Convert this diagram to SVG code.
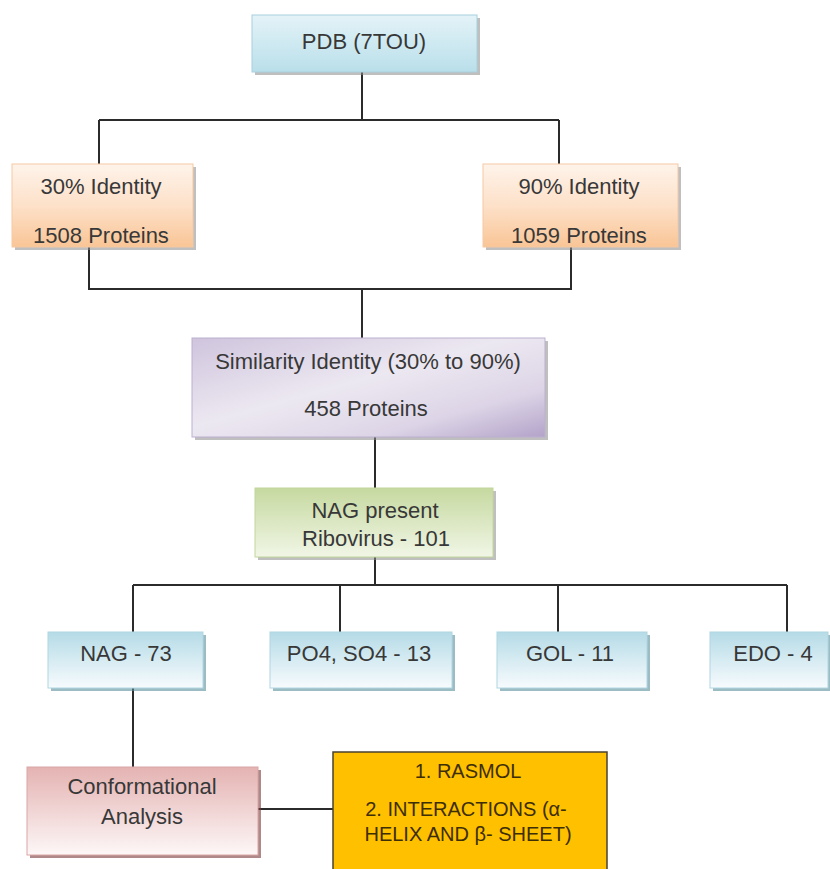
<svg xmlns="http://www.w3.org/2000/svg" width="830" height="869" viewBox="0 0 830 869">
<defs>
<linearGradient id="gBlueTop" x1="0" y1="0" x2="0" y2="1"><stop offset="0" stop-color="#e4f3f8"/><stop offset="1" stop-color="#b9dfea"/></linearGradient>
<linearGradient id="gPeach" x1="0" y1="0" x2="0" y2="1"><stop offset="0" stop-color="#fef3ea"/><stop offset="0.5" stop-color="#fde1c9"/><stop offset="1" stop-color="#f9c596"/></linearGradient>
<linearGradient id="gPurple" x1="0" y1="0" x2="1" y2="1"><stop offset="0" stop-color="#cfc4dd"/><stop offset="0.45" stop-color="#ece8f1"/><stop offset="0.75" stop-color="#ddd5e7"/><stop offset="1" stop-color="#b3a3c9"/></linearGradient>
<linearGradient id="gGreen" x1="0" y1="0" x2="0" y2="1"><stop offset="0" stop-color="#c6d9a0"/><stop offset="1" stop-color="#f1f6e6"/></linearGradient>
<linearGradient id="gBlueBox" x1="0" y1="0" x2="0" y2="1"><stop offset="0" stop-color="#b5dbe7"/><stop offset="1" stop-color="#f7fbfd"/></linearGradient>
<linearGradient id="gPink" x1="0" y1="0" x2="0" y2="1"><stop offset="0" stop-color="#e4b3b2"/><stop offset="1" stop-color="#fdf7f7"/></linearGradient>
</defs>
<style>
.t{font-family:"Liberation Sans",Arial,sans-serif;font-size:22px;fill:#383838;text-anchor:middle}
.tb{font-family:"Liberation Sans",Arial,sans-serif;font-size:20px;fill:#3d2e05;text-anchor:middle}
.sh{fill:#8a8a8a;opacity:0.55}
.ln{stroke:#2b2b2b;stroke-width:2;fill:none}
</style>
<rect width="830" height="869" fill="#ffffff"/>
<g id="connectors">
<path class="ln" d="M362 72 V120 M99 120 H559 M99 120 V164 M559 120 V164"/>
<path class="ln" d="M89 247 V289 H571 V247 M362 289 V338"/>
<path class="ln" d="M375 437 V488"/>
<path class="ln" d="M375 557 V585 M133 585 H787 M133 585 V632 M340 585 V632 M558 585 V632 M787 585 V632"/>
<path class="ln" d="M133 688 V767"/>
<path class="ln" d="M258 809 H333"/>
</g>
<g id="pdb">
<rect class="sh" x="255" y="18" width="225" height="57"/>
<rect x="252" y="15" width="225" height="57" fill="url(#gBlueTop)" stroke="#a8d0dd" stroke-width="1"/>
<text class="t" x="364" y="49">PDB (7TOU)</text>
</g>
<g id="id30">
<rect class="sh" x="15" y="167" width="181" height="83"/>
<rect x="12" y="164" width="181" height="83" fill="url(#gPeach)" stroke="#f5c9a3" stroke-width="1"/>
<text class="t" x="101" y="194">30% Identity</text>
<text class="t" x="101" y="243">1508 Proteins</text>
</g>
<g id="id90">
<rect class="sh" x="486" y="167" width="195" height="83"/>
<rect x="483" y="164" width="195" height="83" fill="url(#gPeach)" stroke="#f5c9a3" stroke-width="1"/>
<text class="t" x="579" y="194">90% Identity</text>
<text class="t" x="579" y="243">1059 Proteins</text>
</g>
<g id="similarity">
<rect class="sh" x="195" y="341" width="353" height="99"/>
<rect x="192" y="338" width="353" height="99" fill="url(#gPurple)" stroke="#bcb0cf" stroke-width="1"/>
<text class="t" x="368" y="369">Similarity Identity (30% to 90%)</text>
<text class="t" x="366" y="416">458 Proteins</text>
</g>
<g id="nagpresent">
<rect class="sh" x="258" y="491" width="238" height="69"/>
<rect x="255" y="488" width="238" height="69" fill="url(#gGreen)" stroke="#c2d69b" stroke-width="1"/>
<text class="t" x="375" y="518">NAG present</text>
<text class="t" x="376" y="546">Ribovirus - 101</text>
</g>
<g id="nag73">
<rect x="51" y="635" width="155" height="56" fill="#5a8f9d" opacity="0.6"/>
<rect x="48" y="632" width="155" height="56" fill="url(#gBlueBox)" stroke="#b0d6e2" stroke-width="1"/>
<text class="t" x="126" y="661">NAG - 73</text>
</g>
<g id="po4">
<rect x="273" y="635" width="182" height="56" fill="#5a8f9d" opacity="0.6"/>
<rect x="270" y="632" width="182" height="56" fill="url(#gBlueBox)" stroke="#b0d6e2" stroke-width="1"/>
<text class="t" x="359" y="661">PO4, SO4 - 13</text>
</g>
<g id="gol">
<rect x="500" y="635" width="150" height="56" fill="#5a8f9d" opacity="0.6"/>
<rect x="497" y="632" width="150" height="56" fill="url(#gBlueBox)" stroke="#b0d6e2" stroke-width="1"/>
<text class="t" x="570" y="661">GOL - 11</text>
</g>
<g id="edo">
<rect x="713" y="635" width="118" height="56" fill="#5a8f9d" opacity="0.6"/>
<rect x="710" y="632" width="118" height="56" fill="url(#gBlueBox)" stroke="#b0d6e2" stroke-width="1"/>
<text class="t" x="773" y="661">EDO - 4</text>
</g>
<g id="conformational">
<rect x="30" y="770" width="231" height="88" fill="#7a3a3a" opacity="0.6"/>
<rect x="27" y="767" width="231" height="88" fill="url(#gPink)" stroke="#d9a6a5" stroke-width="1"/>
<text class="t" x="142" y="794">Conformational</text>
<text class="t" x="142" y="824">Analysis</text>
</g>
<g id="rasmol">
<rect x="333" y="752" width="274" height="125" fill="#ffc000" stroke="#4a4030" stroke-width="1.5"/>
<text class="tb" x="468" y="778">1. RASMOL</text>
<text class="tb" x="466" y="816">2. INTERACTIONS (α-</text>
<text class="tb" x="468" y="841">HELIX AND β- SHEET)</text>
</g>
</svg>
